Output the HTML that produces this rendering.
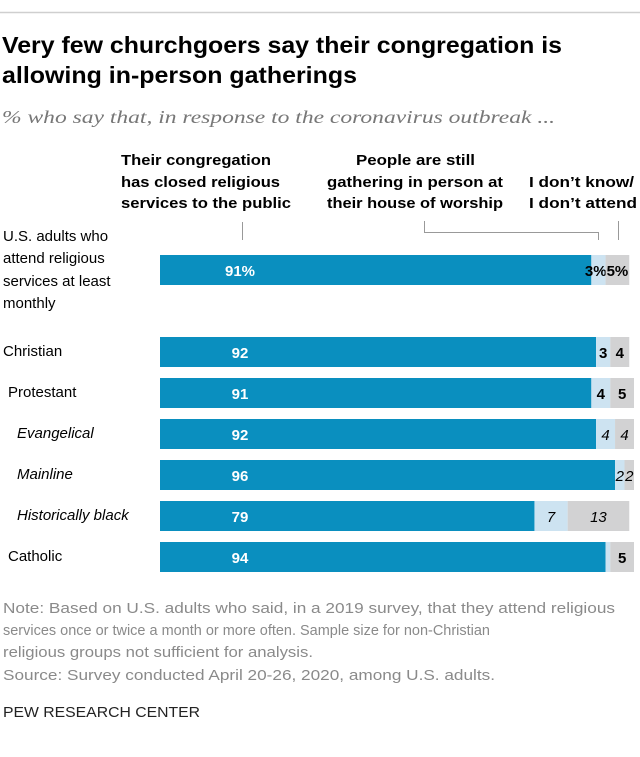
<!DOCTYPE html>
<html><head><meta charset="utf-8"><style>
html,body{margin:0;padding:0;background:#fff;width:640px;height:757px;overflow:hidden}
svg{display:block}
text{font-family:"Liberation Sans",sans-serif}
</style></head><body>
<svg id="chart" width="640" height="757" viewBox="0 0 640 757" xmlns="http://www.w3.org/2000/svg">
<line x1="0" y1="12.5" x2="640" y2="12.5" stroke="#cfcfcf" stroke-width="1.5"/>
<text x="2" y="53" font-size="23" font-weight="bold" fill="#000" textLength="560" lengthAdjust="spacingAndGlyphs">Very few churchgoers say their congregation is</text>
<text x="2" y="83" font-size="23" font-weight="bold" fill="#000" textLength="355" lengthAdjust="spacingAndGlyphs">allowing in-person gatherings</text>
<text x="2" y="123" font-size="18" font-style="italic" fill="#777" style="font-family:'Liberation Serif',serif" textLength="553" lengthAdjust="spacingAndGlyphs">% who say that, in response to the coronavirus outbreak ...</text>
<g font-size="15" font-weight="bold" fill="#000">
<text x="121" y="165" textLength="150" lengthAdjust="spacingAndGlyphs">Their congregation</text>
<text x="121" y="187" textLength="159" lengthAdjust="spacingAndGlyphs">has closed religious</text>
<text x="121" y="208" textLength="170" lengthAdjust="spacingAndGlyphs">services to the public</text>
</g>
<g font-size="15" font-weight="bold" fill="#000">
<text x="356" y="165" textLength="119" lengthAdjust="spacingAndGlyphs">People are still</text>
<text x="327" y="187" textLength="176" lengthAdjust="spacingAndGlyphs">gathering in person at</text>
<text x="327" y="208" textLength="176" lengthAdjust="spacingAndGlyphs">their house of worship</text>
</g>
<g font-size="15" font-weight="bold" fill="#000">
<text x="529" y="187" textLength="105" lengthAdjust="spacingAndGlyphs">I don’t know/</text>
<text x="529" y="208" textLength="108" lengthAdjust="spacingAndGlyphs">I don’t attend</text>
</g>
<g stroke="#999" fill="none" stroke-width="1">
<path d="M242.5 222V240"/>
<path d="M424.5 221V232.5H598.5V240"/>
<path d="M618.5 221V240"/>
</g>
<g font-size="15" fill="#000">
<text x="3" y="241">U.S. adults who</text>
<text x="3" y="263">attend religious</text>
<text x="3" y="286">services at least</text>
<text x="3" y="308">monthly</text>
</g>
<g id="bars"></g>
<g font-size="15" fill="#8a8a8a">
<text x="3" y="613" textLength="612" lengthAdjust="spacingAndGlyphs">Note: Based on U.S. adults who said, in a 2019 survey, that they attend religious</text>
<text x="3" y="635" textLength="487" lengthAdjust="spacingAndGlyphs">services once or twice a month or more often. Sample size for non-Christian</text>
<text x="3" y="657" textLength="310" lengthAdjust="spacingAndGlyphs">religious groups not sufficient for analysis.</text>
<text x="3" y="680" textLength="492" lengthAdjust="spacingAndGlyphs">Source: Survey conducted April 20-26, 2020, among U.S. adults.</text>
</g>
<text x="3" y="717" font-size="15" fill="#222" textLength="197" lengthAdjust="spacingAndGlyphs">PEW RESEARCH CENTER</text>
</svg>
<script>
const categories = ["U.S. adults", "Christian", "Protestant", "Evangelical", "Mainline", "Historically black", "Catholic"];
const closedValues = [91, 92, 91, 92, 96, 79, 94];
const gatheringValues = [3, 3, 4, 4, 2, 7, 1];
const dontKnowValues = [5, 4, 5, 4, 2, 13, 5];
const closedLabels = ["91%", "92", "91", "92", "96", "79", "94"];
const gatheringLabels = ["3%", "3", "4", "4", "2", "7", ""];
const dontKnowLabels = ["5%", "4", "5", "4", "2", "13", "5"];

const NS = "http://www.w3.org/2000/svg";
const x0 = 160, pxPerUnit = 4.74, barH = 30;
const rowTop = [255, 337, 378, 419, 460, 501, 542];
const labelX = [0, 3, 8, 17, 17, 17, 8];
const italicRow = [false, false, false, true, true, true, false];
const xScale = v => v * pxPerUnit;
const g = document.getElementById('bars');
function mk(tag, attrs){const e=document.createElementNS(NS,tag);for(const k in attrs)e.setAttribute(k,attrs[k]);return e;}
categories.forEach((c, i) => {
  const y = rowTop[i];
  if (i > 0) {
    const t = mk('text', {x: labelX[i], y: y + 19, 'font-size': 15, fill: '#000'});
    if (italicRow[i]) t.setAttribute('font-style', 'italic');
    
    
    t.textContent = c;
    g.appendChild(t);
  }
  const segs = [
    [closedValues[i], '#0a8fbf', closedLabels[i], '#fff', 'bar-closed'],
    [gatheringValues[i], '#cde3f1', gatheringLabels[i], '#000', 'bar-gathering'],
    [dontKnowValues[i], '#d2d2d3', dontKnowLabels[i], '#000', 'bar-dont-know']
  ];
  let x = x0;
  segs.forEach((s, j) => {
    const w = xScale(s[0]);
    const r = mk('rect', {x: x, y: y, width: w, height: barH, fill: s[1]});
    
    
    g.appendChild(r);
    if (s[2]) {
      let cx = j === 0 ? 240 : x + w / 2;
      let anchor = 'middle';
      if (i === 0 && j === 1) { cx = x + w + 1; anchor = 'end'; }
      const t = mk('text', {x: cx, y: y + 21, 'font-size': 15, 'font-weight': 'bold', fill: s[3], 'text-anchor': anchor});
      if (j > 0 && italicRow[i]) { t.setAttribute('font-style', 'italic'); t.setAttribute('font-weight', 'normal'); }
      
      
      t.textContent = s[2];
      g.appendChild(t);
    }
    x += w;
  });
});
</script>
</body></html>
